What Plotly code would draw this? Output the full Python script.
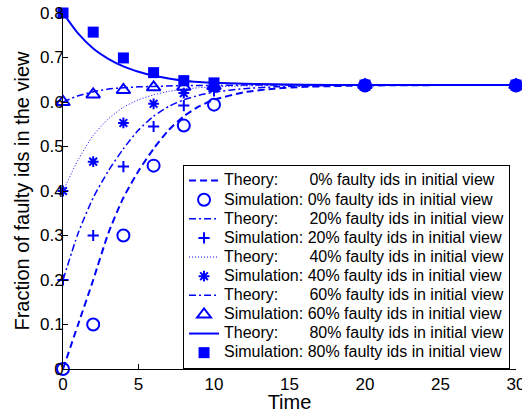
import plotly.graph_objects as go

# ---------------- data ----------------
theory_t = [0, 1, 2, 3, 4, 5, 6, 7, 8, 9, 10, 12, 14, 16, 20, 25, 30]
theory_0 = [0.0, 0.10, 0.20, 0.305, 0.385, 0.445, 0.495, 0.537, 0.568, 0.59, 0.605, 0.622, 0.630, 0.634, 0.637, 0.638, 0.638]
theory_20 = [0.2, 0.305, 0.385, 0.445, 0.495, 0.537, 0.568, 0.59, 0.605, 0.615, 0.622, 0.630, 0.634, 0.636, 0.638, 0.638, 0.638]
theory_40 = [0.4, 0.47, 0.525, 0.562, 0.588, 0.605, 0.616, 0.624, 0.629, 0.632, 0.634, 0.636, 0.637, 0.638, 0.638, 0.638, 0.638]
theory_60 = [0.6, 0.614, 0.623, 0.629, 0.632, 0.634, 0.635, 0.636, 0.637, 0.637, 0.637, 0.638, 0.638, 0.638, 0.638, 0.638, 0.638]
theory_80 = [0.8, 0.754, 0.72, 0.697, 0.68, 0.668, 0.659, 0.653, 0.648, 0.645, 0.643, 0.641, 0.640, 0.639, 0.638, 0.638, 0.638]

sim_t = [0, 2, 4, 6, 8, 10, 20, 30]
sim_0 = [0.0, 0.1, 0.3, 0.457, 0.547, 0.594, 0.637, 0.637]
sim_20 = [0.2, 0.3, 0.455, 0.545, 0.592, 0.625, 0.637, 0.637]
sim_40 = [0.4, 0.466, 0.553, 0.596, 0.62, 0.63, 0.638, 0.638]
sim_60 = [0.6, 0.617, 0.627, 0.633, 0.634, 0.636, 0.638, 0.638]
sim_80 = [0.8, 0.757, 0.699, 0.666, 0.648, 0.643, 0.638, 0.638]

percent_labels = ["0%", "20%", "40%", "60%", "80%"]
x_ticks = [0, 5, 10, 15, 20, 25, 30]
y_ticks = [0, 0.1, 0.2, 0.3, 0.4, 0.5, 0.6, 0.7, 0.8]
y_ticktext = ["0", "0.1", "0.2", "0.3", "0.4", "0.5", "0.6", "0.7", "0.8"]

# ---------------- styles ----------------
BLUE = "#0000FF"
FONT = "Liberation Sans, Arial, Helvetica, sans-serif"
NB = "\u00a0"

theory_series = [theory_0, theory_20, theory_40, theory_60, theory_80]
sim_series = [sim_0, sim_20, sim_40, sim_60, sim_80]
line_styles = [
    dict(dash="7px,4px", width=2),
    dict(dash="7px,3px,2px,3px", width=1.5),
    dict(dash="1px,2px", width=1),
    dict(dash="7px,3px,2px,3px", width=1.5),
    dict(dash="solid", width=2),
]
marker_styles = [
    dict(symbol="circle-open", size=12, line=dict(width=2, color=BLUE)),
    dict(symbol="cross-thin-open", size=8, line=dict(width=2, color=BLUE)),
    dict(symbol="asterisk-open", size=9, line=dict(width=2, color=BLUE)),
    dict(symbol="triangle-up-open", size=12, line=dict(width=2, color=BLUE)),
    dict(symbol="square", size=11, line=dict(width=0, color=BLUE)),
]


def lbl(s):
    return '<span style="font-size:16px">' + s + '</span>'


fig = go.Figure()
for i, pl in enumerate(percent_labels):
    fig.add_trace(go.Scatter(
        x=theory_t, y=theory_series[i], mode="lines",
        line=dict(color=BLUE, shape="spline", smoothing=0.6, **line_styles[i]),
        name=lbl("Theory:" + NB * 7 + pl + " faulty ids in initial view"),
    ))
    fig.add_trace(go.Scatter(
        x=sim_t, y=sim_series[i], mode="markers",
        marker=dict(color=BLUE, **marker_styles[i]),
        cliponaxis=False,
        name=lbl("Simulation: " + pl + " faulty ids in initial view"),
    ))

axis_common = dict(
    showgrid=False, zeroline=False, showline=True, linecolor="black", linewidth=1,
    ticks="inside", ticklen=5, tickcolor="black", tickwidth=1,
    tickfont=dict(family=FONT, size=17, color="black"),
    mirror=False, automargin=False, ticklabeloverflow="allow",
)

fig.update_layout(
    width=522, height=413,
    margin=dict(l=63, r=6, t=13, b=44),
    paper_bgcolor="white", plot_bgcolor="white",
    font=dict(family=FONT, color="black"),
    showlegend=True,
    legend=dict(
        x=0.265, y=0.573, xanchor="left", yanchor="top",
        bgcolor="white", bordercolor="black", borderwidth=1,
        font=dict(family=FONT, size=12.4, color="black"),
        itemwidth=30, tracegroupgap=0,
    ),
    xaxis=dict(range=[0, 30], tickvals=x_ticks,
               title=dict(text="Time", font=dict(family=FONT, size=20), standoff=2),
               **axis_common),
    yaxis=dict(range=[0, 0.8], tickvals=y_ticks, ticktext=y_ticktext,
               ticklabelstandoff=-5,
               title=dict(text="Fraction of faulty ids in the view", font=dict(family=FONT, size=20), standoff=4),
               **axis_common),
)

fig.write_html("out.html", config={"displayModeBar": False},
               post_script="document.body.style.margin='0px';")
